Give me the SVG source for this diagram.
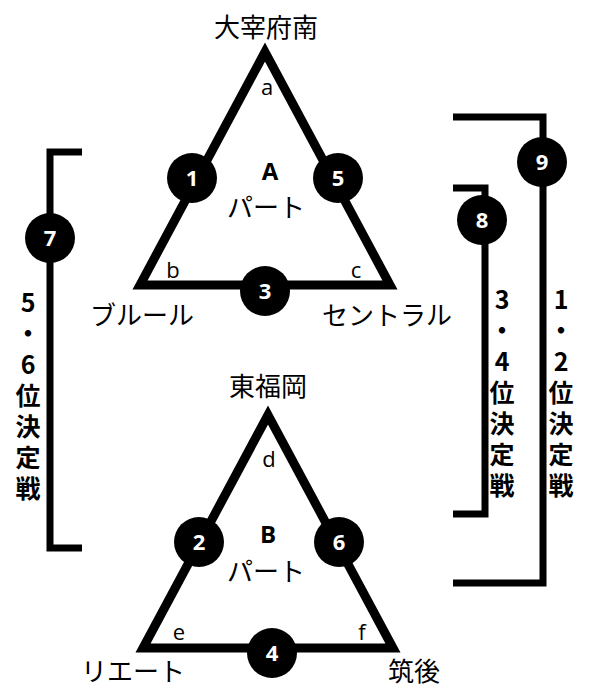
<svg xmlns="http://www.w3.org/2000/svg" width="589" height="690" viewBox="0 0 589 690">
<style>
.edge{fill:none;stroke:#000;stroke-width:9;stroke-linejoin:miter}
.br{fill:none;stroke:#000;stroke-width:7;stroke-linejoin:miter}
.dot{fill:#000}
.num{font-family:"Open Sans","Noto Sans",sans-serif;font-weight:bold;font-size:22px;fill:#fff;text-anchor:middle}
.jp{font-family:"Noto Sans CJK JP",sans-serif;font-size:26px;fill:#000;text-anchor:middle}
.lt{font-family:"Open Sans","Noto Sans",sans-serif;font-size:22px;fill:#000;text-anchor:middle}
.part{font-family:"Open Sans","Noto Sans",sans-serif;font-weight:bold;font-size:24px;fill:#000;text-anchor:middle}
.vt{font-family:"Noto Sans CJK JP",sans-serif;font-weight:bold;font-size:25px;fill:#000;writing-mode:vertical-rl;text-orientation:upright;letter-spacing:6px}
</style>
<rect width="589" height="690" fill="#fff"/>
<g id="connectors">
<path class="edge" d="M265,52 L140,285 L390,285 Z"/>
<path class="edge" d="M268,415 L143,648 L393,648 Z"/>
<path class="br" d="M82,152 H50 V548 H82"/>
<path class="br" d="M453,117 H543 V583 H453"/>
<path class="br" d="M453,188 H485 V514 H453"/>
</g>
<g id="partA">
<text class="jp" x="266" y="37">大宰府南</text>
<text class="lt" x="267" y="95">a</text>
<text class="lt" x="173" y="278">b</text>
<text class="lt" x="356" y="278">c</text>
<text class="part" x="270" y="180">A</text>
<text class="jp" x="266" y="217">パート</text>
<text class="jp" x="142" y="325">ブルール</text>
<text class="jp" x="387" y="325">セントラル</text>
</g>
<g id="partB">
<text class="jp" x="268" y="396">東福岡</text>
<text class="lt" x="269" y="467">d</text>
<text class="lt" x="179" y="640">e</text>
<text class="lt" x="362" y="640">f</text>
<text class="part" x="268" y="543">B</text>
<text class="jp" x="266" y="581">パート</text>
<text class="jp" x="133" y="681">リエート</text>
<text class="jp" x="414" y="681">筑後</text>
</g>
<g id="m1"><circle class="dot" cx="192" cy="178" r="25"/><text class="num" x="192" y="186">1</text></g>
<g id="m5"><circle class="dot" cx="338" cy="178" r="25"/><text class="num" x="338" y="186">5</text></g>
<g id="m3"><circle class="dot" cx="265" cy="291" r="25"/><text class="num" x="265" y="299">3</text></g>
<g id="m2"><circle class="dot" cx="199" cy="542" r="25"/><text class="num" x="199" y="550">2</text></g>
<g id="m6"><circle class="dot" cx="339" cy="542" r="25"/><text class="num" x="339" y="550">6</text></g>
<g id="m4"><circle class="dot" cx="272" cy="653" r="25"/><text class="num" x="272" y="661">4</text></g>
<g id="m7"><circle class="dot" cx="50" cy="238" r="25"/><text class="num" x="50" y="246">7</text></g>
<g id="m8"><circle class="dot" cx="482" cy="220" r="25"/><text class="num" x="482" y="228">8</text></g>
<g id="m9"><circle class="dot" cx="542" cy="162" r="25"/><text class="num" x="542" y="170">9</text></g>
<g id="label56"><text class="vt" x="28" y="290">5・6位決定戦</text></g>
<g id="label34"><text class="vt" x="502" y="287">3・4位決定戦</text></g>
<g id="label12"><text class="vt" x="561" y="287">1・2位決定戦</text></g>
</svg>
